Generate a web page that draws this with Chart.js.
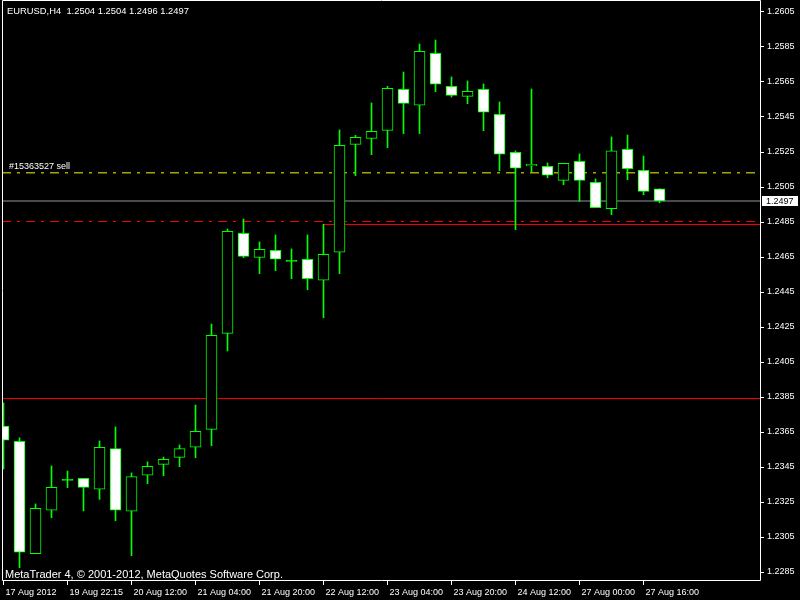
<!DOCTYPE html>
<html>
<head>
<meta charset="utf-8">
<script src="https://cdn.jsdelivr.net/npm/chart.js@4.4.1/dist/chart.umd.min.js"></script>
<style>
  html, body { margin: 0; padding: 0; background: #000; }
  canvas { display: block; }
</style>
</head>
<body>
<canvas id="chart" width="800" height="600"></canvas>
<script>
// ===== Data (EURUSD H4) =====
const times = [
  '17 Aug 2012', '17 Aug 12:00', '17 Aug 16:00', '17 Aug 20:00',
  '19 Aug 22:15', '20 Aug 00:00', '20 Aug 04:00', '20 Aug 08:00',
  '20 Aug 12:00', '20 Aug 16:00', '20 Aug 20:00', '21 Aug 00:00',
  '21 Aug 04:00', '21 Aug 08:00', '21 Aug 12:00', '21 Aug 16:00',
  '21 Aug 20:00', '22 Aug 00:00', '22 Aug 04:00', '22 Aug 08:00',
  '22 Aug 12:00', '22 Aug 16:00', '22 Aug 20:00', '23 Aug 00:00',
  '23 Aug 04:00', '23 Aug 08:00', '23 Aug 12:00', '23 Aug 16:00',
  '23 Aug 20:00', '24 Aug 00:00', '24 Aug 04:00', '24 Aug 08:00',
  '24 Aug 12:00', '24 Aug 16:00', '24 Aug 20:00', '26 Aug 22:15',
  '27 Aug 00:00', '27 Aug 04:00', '27 Aug 08:00', '27 Aug 12:00',
  '27 Aug 16:00', '27 Aug 20:00',
];

const opens = [
  1.23684, 1.23597, 1.22955, 1.23203, 1.23374, 1.23385, 1.23323, 1.23555,
  1.23197, 1.23403, 1.23465, 1.23505, 1.23563, 1.23665, 1.24214, 1.24785,
  1.24648, 1.24688, 1.24625, 1.24637, 1.24517, 1.24677, 1.25294, 1.25328,
  1.25374, 1.25608, 1.25517, 1.25814, 1.25625, 1.25568, 1.25608, 1.25465,
  1.25248, 1.25170, 1.25168, 1.25088, 1.25197, 1.25077, 1.24926, 1.25265,
  1.25145, 1.25040,
];
const highs = [
  1.23816, 1.23617, 1.23239, 1.23456, 1.23427, 1.23385, 1.23599, 1.23679,
  1.23416, 1.23479, 1.23507, 1.23576, 1.23804, 1.24267, 1.24810, 1.24867,
  1.24736, 1.24776, 1.24696, 1.24776, 1.24837, 1.25376, 1.25345, 1.25530,
  1.25625, 1.25707, 1.25867, 1.25890, 1.25679, 1.25656, 1.25639, 1.25536,
  1.25256, 1.25610, 1.25187, 1.25185, 1.25239, 1.25096, 1.25336, 1.25347,
  1.25227, 1.25040,
];
const lows = [
  1.23439, 1.22875, 1.22955, 1.23160, 1.23332, 1.23199, 1.23265, 1.23143,
  1.22943, 1.23355, 1.23400, 1.23452, 1.23503, 1.23572, 1.24113, 1.24646,
  1.24555, 1.24572, 1.24526, 1.24463, 1.24303, 1.24555, 1.25115, 1.25235,
  1.25275, 1.25355, 1.25355, 1.25595, 1.25564, 1.25526, 1.25372, 1.25143,
  1.24806, 1.25134, 1.25103, 1.25063, 1.24968, 1.24932, 1.24892, 1.25092,
  1.25006, 1.24960,
];
const closes = [
  1.23603, 1.22963, 1.23214, 1.23334, 1.23374, 1.23334, 1.23563, 1.23203,
  1.23395, 1.23454, 1.23494, 1.23555, 1.23654, 1.24203, 1.24797, 1.24654,
  1.24694, 1.24637, 1.24625, 1.24526, 1.24665, 1.25288, 1.25334, 1.25368,
  1.25614, 1.25528, 1.25825, 1.25637, 1.25574, 1.25597, 1.25477, 1.25237,
  1.25157, 1.25180, 1.25117, 1.25185, 1.25088, 1.24932, 1.25256, 1.25155,
  1.25025, 1.24970,
];

const priceTicks = [
  1.2285, 1.2305, 1.2325, 1.2345, 1.2365, 1.2385, 1.2405, 1.2425, 1.2445,
  1.2465, 1.2485, 1.2505, 1.2525, 1.2545, 1.2565, 1.2585, 1.2605,
];
const timeTicks = [0, 4, 8, 12, 16, 20, 24, 28, 32, 36, 40];

// niveis horizontais
const bid = 1.2497;
const orderPrice = 1.25133;
const orderRed = 1.25127;
const redDashed = 1.24853;
const redTrend = 1.24836;
const redTrendFrom = 20;
const redLevel = 1.23841;

const symbolTitle = 'EURUSD,H4  1.2504 1.2504 1.2496 1.2497';
const orderLabel = '#15363527 sell';
const copyright = 'MetaTrader 4, \u00a9 2001-2012, MetaQuotes Software Corp.';

// ===== Setup =====
const GREEN = '#00ff00';
const RED = '#ff0000';
const FONT = 'Liberation Sans, Arial, sans-serif';

// 16 px per candle, plot from x=2 to x=761, price 1.75 px per point
const xMin = -0.09375;
const xMax = xMin + 759 / 16;
const yMax = 1.2605 + 11 / 17500;
const yMin = yMax - 580 / 17500;

function hLine(value, color, dash, from) {
  return {
    type: 'line',
    data: [{ x: from === undefined ? xMin : from, y: value }, { x: xMax, y: value }],
    borderColor: color,
    borderWidth: 1,
    borderDash: dash || [],
    pointRadius: 0,
    order: 3,
  };
}

function noPad(s) {
  s.paddingTop = 0;
  s.paddingBottom = 0;
  s.paddingLeft = 0;
  s.paddingRight = 0;
}

const overlay = {
  id: 'mt4Overlay',
  beforeDraw(chart) {
    const ctx = chart.ctx;
    ctx.save();
    ctx.fillStyle = '#000';
    ctx.fillRect(0, 0, chart.width, chart.height);
    ctx.restore();
  },
  afterDraw(chart) {
    const ctx = chart.ctx;
    const y = chart.scales.y;
    ctx.save();
    // frame
    ctx.strokeStyle = '#fff';
    ctx.lineWidth = 1;
    ctx.beginPath();
    ctx.moveTo(2.5, 0.5);
    ctx.lineTo(760.5, 0.5);
    ctx.lineTo(760.5, 580.5);
    ctx.lineTo(2.5, 580.5);
    ctx.closePath();
    ctx.stroke();

    ctx.fillStyle = '#fff';
    ctx.textBaseline = 'alphabetic';
    ctx.font = '9.4px ' + FONT;
    ctx.fillText(symbolTitle, 7, 14);

    ctx.font = '9px ' + FONT;
    ctx.fillText(orderLabel, 9, Math.round(y.getPixelForValue(orderPrice)) - 3);

    ctx.font = '11px ' + FONT;
    ctx.fillText(copyright, 5, 578);

    // bid price box
    const by = Math.round(y.getPixelForValue(bid));
    ctx.fillStyle = '#fff';
    ctx.fillRect(762, by - 5, 36, 10);
    ctx.fillStyle = '#000';
    ctx.font = '9px ' + FONT;
    ctx.textBaseline = 'middle';
    ctx.fillText(bid.toFixed(4), 766, by + 0.5);
    ctx.restore();
  },
};

new Chart(document.getElementById('chart'), {
  type: 'bar',
  data: {
    datasets: [
      {
        label: 'bodies',
        data: opens.map((o, i) => ({ x: i, y: [o, closes[i]] })),
        backgroundColor: (c) => {
          const i = c.dataIndex;
          if (closes[i] > opens[i]) return '#000';
          if (closes[i] < opens[i]) return '#fff';
          return GREEN;
        },
        borderColor: GREEN,
        borderWidth: 1,
        borderSkipped: false,
        barThickness: 11,
        minBarLength: 1,
        grouped: false,
        order: 1,
      },
      {
        label: 'wicks',
        data: lows.map((l, i) => ({ x: i, y: [l, highs[i]] })),
        backgroundColor: GREEN,
        borderWidth: 0,
        barThickness: 1,
        grouped: false,
        order: 2,
      },
      hLine(orderPrice, GREEN, [9, 6, 3, 6]),
      hLine(orderRed, RED, [9, 6, 3, 6]),
      hLine(bid, '#8c96a0'),
      hLine(redDashed, RED, [9, 6, 3, 6]),
      hLine(redTrend, RED, [], redTrendFrom),
      hLine(redLevel, RED),
    ],
  },
  options: {
    responsive: false,
    animation: false,
    layout: { padding: { left: 2, top: 1, right: 0, bottom: 0 } },
    plugins: { legend: { display: false }, tooltip: { enabled: false } },
    scales: {
      x: {
        type: 'linear',
        min: xMin,
        max: xMax,
        offset: false,
        grid: { drawOnChartArea: false, offset: false, color: '#fff', tickLength: 4 },
        border: { display: false },
        afterBuildTicks: (s) => { s.ticks = timeTicks.map((v) => ({ value: v })); },
        afterFit: (s) => { s.height = 19; noPad(s); },
        ticks: {
          autoSkip: false,
          maxRotation: 0,
          align: 'start',
          labelOffset: 2,
          padding: 2,
          color: '#fff',
          font: { family: FONT, size: 9 },
          callback: (v) => times[v],
        },
      },
      y: {
        position: 'right',
        min: yMin,
        max: yMax,
        grid: { drawOnChartArea: false, color: '#fff', tickLength: 3 },
        border: { display: false },
        afterBuildTicks: (s) => { s.ticks = priceTicks.map((v) => ({ value: v })); },
        afterFit: (s) => { s.width = 39; noPad(s); },
        ticks: {
          autoSkip: false,
          padding: 3,
          color: '#fff',
          font: { family: FONT, size: 9 },
          callback: (v) => v.toFixed(4),
        },
      },
    },
  },
  plugins: [overlay],
});
</script>
</body>
</html>
